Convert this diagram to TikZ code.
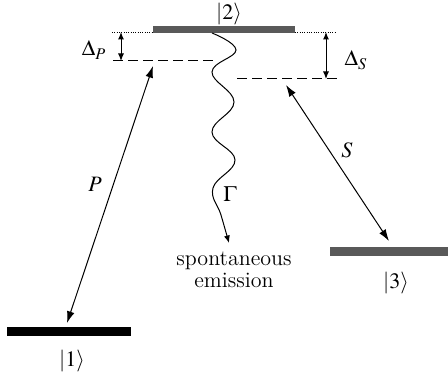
\documentclass[tikz,border=0pt]{standalone}
\usepackage{mathptmx}
\usetikzlibrary{arrows.meta}
\begin{document}
\begin{tikzpicture}[x=0.6pt,y=-0.6pt,line cap=butt,>={Latex[length=7pt,width=4.6pt]},
  every node/.style={font=\fontsize{13.2}{13.2}\selectfont},
  thin line/.style={line width=0.6pt},
  small tips/.style={>={Latex[length=4.5pt,width=3.6pt]}}]
  \useasboundingbox (0,0) rectangle (448,379);
  % energy levels
  \draw[line width=4.2pt,black!65] (153,29.5) coordinate (l2a) -- (295,29.5) coordinate (l2b);
  \draw[line width=5.6pt,black] (7,331.5) coordinate (l1a) -- (131,331.5) coordinate (l1b);
  \draw[line width=5.4pt,black!65] (330,252) coordinate (l3a) -- (448,252) coordinate (l3b);
  \node (k2) at (229,14) {$|2\rangle$};
  \node (k1) at (72,361) {$|1\rangle$};
  \node (k3) at (396,283) {$|3\rangle$};
  % detuned levels
  \draw[densely dotted,line width=0.4pt] (112,32) coordinate (dl) -- (l2a|-dl);
  \draw[densely dotted,line width=0.4pt] (l2b|-dl) -- (336,32) coordinate (dr);
  \draw[dash pattern=on 6pt off 3pt,thin line] (113,61) coordinate (vp) -- (215,61) coordinate (vpe);
  \draw[dash pattern=on 6pt off 3pt,thin line] (237,79) coordinate (vse) -- (338,79) coordinate (vs);
  \draw[<->,thin line,small tips] (121,32) coordinate (dpa) -- (dpa|-vp);
  \node (dP) at (94,50) {$\Delta_P$};
  \draw[<->,thin line,small tips] (326,32) coordinate (dsa) -- (dsa|-vs);
  \node (dS) at (356,60) {$\Delta_S$};
  % couplings
  \coordinate (p1) at (67,323);
  \coordinate (p2) at (153,66);
  \draw[<->,thin line] (p1) -- (p2);
  \node (lP) at (95,184) {$P$};
  \coordinate (s1) at (286,85);
  \coordinate (s2) at (389,241);
  \draw[<->,thin line] (s1) -- (s2);
  \node (lS) at (347,150) {$S$};
  % decay
  \draw[->,thin line,small tips] plot[smooth,tension=0.7] coordinates {(212,33) (236,50) (212,72) (234,102) (212,132) (235,160) (213,188) (221,215) (229,243)};
  \node (lG) at (230,194) {$\Gamma$};
  \node[align=center,inner sep=0pt] (em) at (234,270) {spontaneous\\emission};
\end{tikzpicture}
\end{document}
